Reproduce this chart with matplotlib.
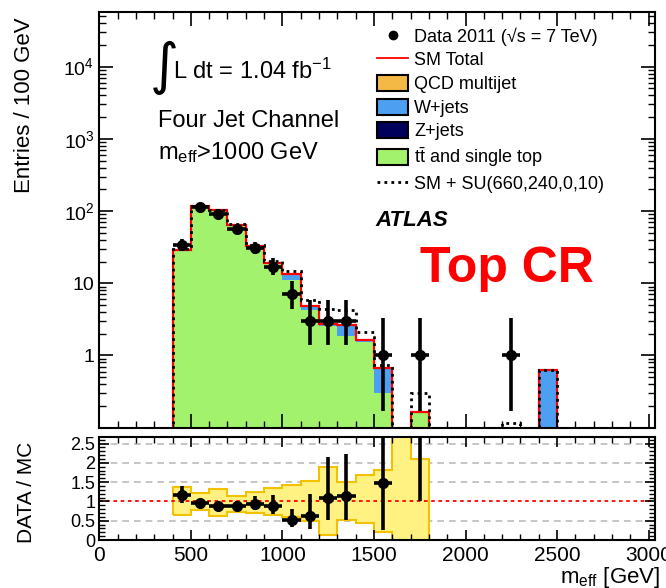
import numpy as np
import matplotlib
matplotlib.use("Agg")
import matplotlib.pyplot as plt
from matplotlib.ticker import MultipleLocator, LogLocator, FixedLocator, FuncFormatter, NullFormatter
from matplotlib.patches import Patch
from matplotlib.lines import Line2D

plt.rcParams['font.family'] = ['Liberation Sans', 'DejaVu Sans']
plt.rcParams['mathtext.fontset'] = 'custom'
plt.rcParams['mathtext.rm'] = 'Liberation Sans'
plt.rcParams['mathtext.it'] = 'Liberation Sans:italic'
plt.rcParams['mathtext.default'] = 'regular'
for a in ('xtick', 'ytick'):
    plt.rcParams[a + '.direction'] = 'in'
    plt.rcParams[a + '.major.size'] = 10
    plt.rcParams[a + '.minor.size'] = 5
    plt.rcParams[a + '.major.width'] = 1.2
    plt.rcParams[a + '.minor.width'] = 1.0
plt.rcParams['xtick.top'] = True
plt.rcParams['ytick.right'] = True

# ---- m_eff histogram, 100 GeV bins from 0 to 3000 ----
bin_edges = list(range(0, 3100, 100))
#          0  100 200 300  400  500  600  700  800  900  1000  1100 1200 1300  1400 1500 1600 1700   1800 ... 2900
ttbar  = [0, 0, 0, 0, 29, 117, 104, 65, 33, 19.2, 11.2, 4.2, 2.6, 1.85, 1.55, 0.3, 0, 0.167] + [0] * 12
wjets  = [0] * 10 + [2.2, 0.65, 0.12, 0.78, 0.06, 0.38] + [0] * 8 + [0.63] + [0] * 5
zjets  = [0] * 10 + [0.15, 0.05, 0.03, 0.02, 0.04] + [0] * 15
qcd    = [0] * 30
sm_su  = [0, 0, 0, 0, 30, 118, 105, 66, 34, 20.5, 15, 5.8, 4.4, 4.2, 2.1, 0.75, 0, 0.3,
          0, 0, 0, 0, 0.115, 0, 0.63, 0, 0, 0, 0, 0]

# data 2011 (bin centres, counts, Poisson errors)
data_x   = [450, 550, 650, 750, 850, 950, 1050, 1150, 1250, 1350, 1550, 1750, 2250]
data_n   = [34, 113, 92, 57, 31, 17, 7, 3, 3, 3, 1, 1, 1]
data_elo = [5.8, 10.6, 9.6, 7.5, 5.5, 4.1, 2.6, 1.6, 1.6, 1.6, 0.83, 0.83, 0.83]
data_ehi = [6.9, 11.7, 10.6, 8.6, 6.6, 5.2, 3.8, 2.9, 2.9, 2.9, 2.3, 2.3, 2.3]

# MC uncertainty band on the ratio, bins 400..1800
band_edges = list(range(400, 1900, 100))
band_lo = [0.65, 0.78, 0.62, 0.73, 0.70, 0.66, 0.60, 0.48, 0.12, 0.52, 0.43, 0.21, 0.0, 0.0]
band_hi = [1.38, 1.22, 1.31, 1.13, 1.25, 1.36, 1.43, 1.52, 1.90, 1.51, 1.68, 1.81, 3.0, 2.11]

c_green = '#a2f26e'
c_blue = '#4d9ff2'
c_navy = '#00005c'
c_orange = '#f4b944'
c_yellow = '#fff283'

edges = np.array(bin_edges, dtype=float)
tt = np.array(ttbar)
w = np.array(wjets)
z = np.array(zjets)
q = np.array(qcd)
tot = tt + w + z + q
floor = 1e-3
cl = lambda v: np.maximum(v, floor)

fig = plt.figure(figsize=(6.66, 5.88), dpi=100)
ax = fig.add_axes([0.1491, 0.2726, 0.8344, 0.7070])
rax = fig.add_axes([0.1491, 0.0816, 0.8344, 0.1752])

# stacked MC
ax.stairs(cl(tt), edges, baseline=floor, fill=True, color=c_green, lw=0)
ax.stairs(cl(tt + w), edges, baseline=cl(tt), fill=True, color=c_blue, lw=0)
ax.stairs(cl(tt + w + z), edges, baseline=cl(tt + w), fill=True, color=c_navy, lw=0)
ax.stairs(cl(tot), edges, baseline=floor, color='red', lw=1.6)
ax.stairs(cl(np.array(sm_su)), edges, baseline=floor, color='black', lw=2.0, ls=(0, (1, 1.5)))
ax.errorbar(data_x, data_n, yerr=[data_elo, data_ehi], xerr=50, fmt='o', color='black',
            ms=7, elinewidth=2.6, capsize=0)

ax.set_xlim(0, 3035)
ax.set_ylim(0.1, 5.7e4)
ax.set_yscale('log')
ax.xaxis.set_major_locator(MultipleLocator(500))
ax.xaxis.set_minor_locator(MultipleLocator(100))
ax.xaxis.set_major_formatter(NullFormatter())
ax.yaxis.set_major_locator(FixedLocator([0.1, 1, 10, 100, 1e3, 1e4]))
ax.yaxis.set_minor_locator(LogLocator(subs=np.arange(2, 10)))
ax.yaxis.set_major_formatter(FuncFormatter(
    lambda v, p: {1: '1', 10: '10'}.get(round(v), '') if v < 50 and v > 0.5
    else ('$10^{%d}$' % round(np.log10(v)) if v > 50 else '')))
ax.yaxis.set_minor_formatter(NullFormatter())
ax.tick_params(labelsize=14)

# ratio panel
ax_r_mc = tot[[int(x // 100) for x in data_x]]
sel = ax_r_mc > 0
rx = np.array(data_x)[sel]
rmc = ax_r_mc[sel]
ratio = np.array(data_n)[sel] / rmc
rlo = np.array(data_elo)[sel] / rmc
rhi = np.array(data_ehi)[sel] / rmc

rax.stairs(band_hi, band_edges, baseline=band_lo, fill=True, facecolor=c_yellow,
           edgecolor='#f2c200', lw=1.5)
for g in (0.5, 1.5, 2.0, 2.5):
    rax.axhline(g, color='#bbbbbb', lw=1.2, ls=(0, (4, 3)), zorder=0)
rax.axhline(1.0, color='red', lw=1.3, ls=(0, (2, 2)), zorder=1)
rax.errorbar(rx, ratio, yerr=[rlo, rhi], xerr=50, fmt='o', color='black',
             ms=7, elinewidth=2.6, capsize=0, zorder=3)
rax.set_xlim(0, 3035)
rax.set_ylim(0, 2.67)
rax.xaxis.set_major_locator(MultipleLocator(500))
rax.xaxis.set_minor_locator(MultipleLocator(100))
rax.yaxis.set_major_locator(MultipleLocator(0.5))
rax.yaxis.set_minor_locator(MultipleLocator(0.1))
rax.yaxis.set_major_formatter(FuncFormatter(lambda v, p: '%g' % v))
rax.tick_params(axis='x', labelsize=15, pad=4)
rax.tick_params(axis='y', labelsize=13, pad=3)
rax.tick_params(which='major', length=7)
rax.tick_params(which='minor', length=4)

for a in (ax, rax):
    for s in a.spines.values():
        s.set_linewidth(1.5)

# legend
handles = [
    Line2D([], [], marker='o', color='black', ls='none', ms=6),
    Line2D([], [], color='red', lw=1.3),
    Patch(facecolor=c_orange, edgecolor='black', lw=1.5),
    Patch(facecolor=c_blue, edgecolor='black', lw=1.5),
    Patch(facecolor=c_navy, edgecolor='black', lw=1.5),
    Patch(facecolor=c_green, edgecolor='black', lw=1.5),
    Line2D([], [], color='black', lw=2, ls=(0, (1, 1.5))),
]
labels = ['Data 2011 (\u221as = 7 TeV)', 'SM Total', 'QCD multijet', 'W+jets', 'Z+jets',
          r't$\bar{\rm t}$ and single top', 'SM + SU(660,240,0,10)']
ax.legend(handles, labels, loc='upper left', bbox_to_anchor=(0.5, 0.963), frameon=False,
          fontsize=13, handlelength=1.7, handleheight=1.0, handletextpad=0.35,
          labelspacing=0.3, borderaxespad=0, borderpad=0)

# annotations
W, H = 666.0, 588.0
def ft(x, y, s, **kw):
    fig.text(x / W, 1 - y / H, s, **kw)

ft(164, 68, '\u222b', fontsize=40, ha='center', va='center', family='DejaVu Sans')
ft(173, 71, 'L dt = 1.04 fb$^{-1}$', fontsize=17, va='center')
ft(158, 121, 'Four Jet Channel', fontsize=17, va='center')
ft(158, 153, r'm$_{\rm eff}$>1000 GeV', fontsize=17, va='center')
ft(375, 221, 'ATLAS', fontsize=16, fontweight='bold', fontstyle='italic', va='center')
ft(507, 269, 'Top CR', fontsize=36, fontweight='bold', color='red', ha='center', va='center')
ft(25, 105, 'Entries / 100 GeV', fontsize=16, rotation=90, ha='center', va='center')
ft(27, 492, 'DATA / MC', fontsize=15, rotation=90, ha='center', va='center')
ft(660, 577, r'm$_{\rm eff}$ [GeV]', fontsize=16, ha='right', va='center')

fig.savefig('out.png', dpi=100)
